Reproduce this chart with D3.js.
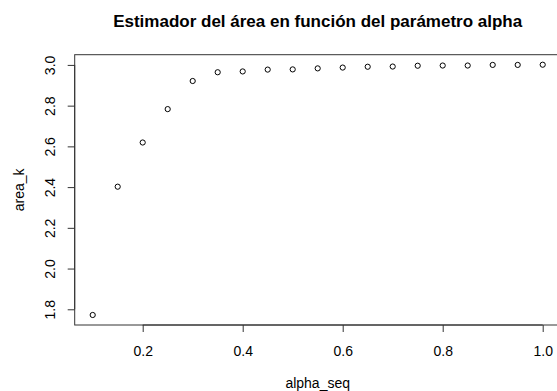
<!DOCTYPE html>
<html>
<head>
<meta charset="utf-8">
<script src="https://cdnjs.cloudflare.com/ajax/libs/d3/7.8.5/d3.min.js"></script>
<style>
  body { margin: 0; background: #fff; }
  svg text { font-family: "Liberation Sans", Arial, sans-serif; fill: #000; }
</style>
</head>
<body>
<svg id="chart" width="557" height="391"></svg>
<script>
// data
let alpha_seg = [0.10, 0.15, 0.20, 0.25, 0.30, 0.35, 0.40, 0.45, 0.50, 0.55,
                 0.60, 0.65, 0.70, 0.75, 0.80, 0.85, 0.90, 0.95, 1.00];
let area_k = [1.772, 2.402, 2.619, 2.783, 2.921, 2.964, 2.968, 2.977, 2.978, 2.983,
              2.987, 2.991, 2.992, 2.996, 2.997, 2.997, 3.000, 3.000, 3.001];
let x_ticks = [0.2, 0.4, 0.6, 0.8, 1.0];
let y_ticks = [1.8, 2.0, 2.2, 2.4, 2.6, 2.8, 3.0];

let chart = d3.select("#chart");
let plot_left = 74.7, plot_right = 560.7, plot_top = 54.7, plot_bottom = 325;

// R style 4% padding on the ranges
function pad(ext) {
    let d = (ext[1] - ext[0]) * 0.04;
    return [ext[0] - d, ext[1] + d];
}

let x = d3.scaleLinear()
    .domain(pad(d3.extent(alpha_seg)))
    .range([plot_left, plot_right]);

let y = d3.scaleLinear()
    .domain(pad(d3.extent(area_k)))
    .range([plot_bottom, plot_top]);

// x axis
let xAxis = d3.axisBottom(x)
    .tickValues(x_ticks)
    .tickSize(7)
    .tickPadding(14)
    .tickFormat(d3.format(".1f"));
let xAxisGroup = chart.append("g")
    .attr("transform", "translate(0," + plot_bottom + ")")
    .call(xAxis);
xAxisGroup.select(".domain")
    .attr("d", "M" + x(x_ticks[0]) + ",0H" + x(x_ticks[x_ticks.length - 1]));
xAxisGroup.selectAll("text")
    .style("font-size", "14px");

// y axis, labels rotated like R
let yAxis = d3.axisLeft(y)
    .tickValues(y_ticks)
    .tickSize(7)
    .tickFormat(d3.format(".1f"));
let yAxisGroup = chart.append("g")
    .attr("transform", "translate(" + plot_left + ",0)")
    .call(yAxis);
yAxisGroup.select(".domain")
    .attr("d", "M0," + y(y_ticks[0]) + "V" + y(y_ticks[y_ticks.length - 1]));
yAxisGroup.selectAll(".tick text")
    .attr("x", null).attr("dy", null)
    .attr("transform", "translate(-19.2,0) rotate(-90)")
    .style("text-anchor", "middle")
    .style("font-size", "14px");

chart.selectAll(".domain, .tick line")
    .attr("stroke", "#333");

// box around the plot
chart.append("rect")
    .attr("x", plot_left)
    .attr("y", plot_top)
    .attr("width", plot_right - plot_left)
    .attr("height", plot_bottom - plot_top)
    .attr("fill", "none")
    .attr("stroke", "#333")
    .attr("stroke-width", 1);

// points
chart.selectAll("circle.pt")
    .data(alpha_seg)
    .enter()
    .append("circle")
    .attr("class", "pt")
    .attr("cx", function(d) { return x(d); })
    .attr("cy", function(d, i) { return y(area_k[i]); })
    .attr("r", 2.6)
    .attr("fill", "none")
    .attr("stroke", "#000")
    .attr("stroke-width", 1);

// titles
chart.append("text")
    .text("Estimador del área en función del parámetro alpha")
    .attr("x", (plot_left + plot_right) / 2)
    .attr("y", 27)
    .style("text-anchor", "middle")
    .style("font-size", "17px")
    .style("font-weight", "bold");

chart.append("text")
    .text("alpha_seq")
    .attr("x", (plot_left + plot_right) / 2)
    .attr("y", 388)
    .style("text-anchor", "middle")
    .style("font-size", "14px");

chart.append("text")
    .text("area_k")
    .attr("transform", "translate(24.3," + ((plot_top + plot_bottom) / 2) + ") rotate(-90)")
    .style("text-anchor", "middle")
    .style("font-size", "14px");
</script>
</body>
</html>
